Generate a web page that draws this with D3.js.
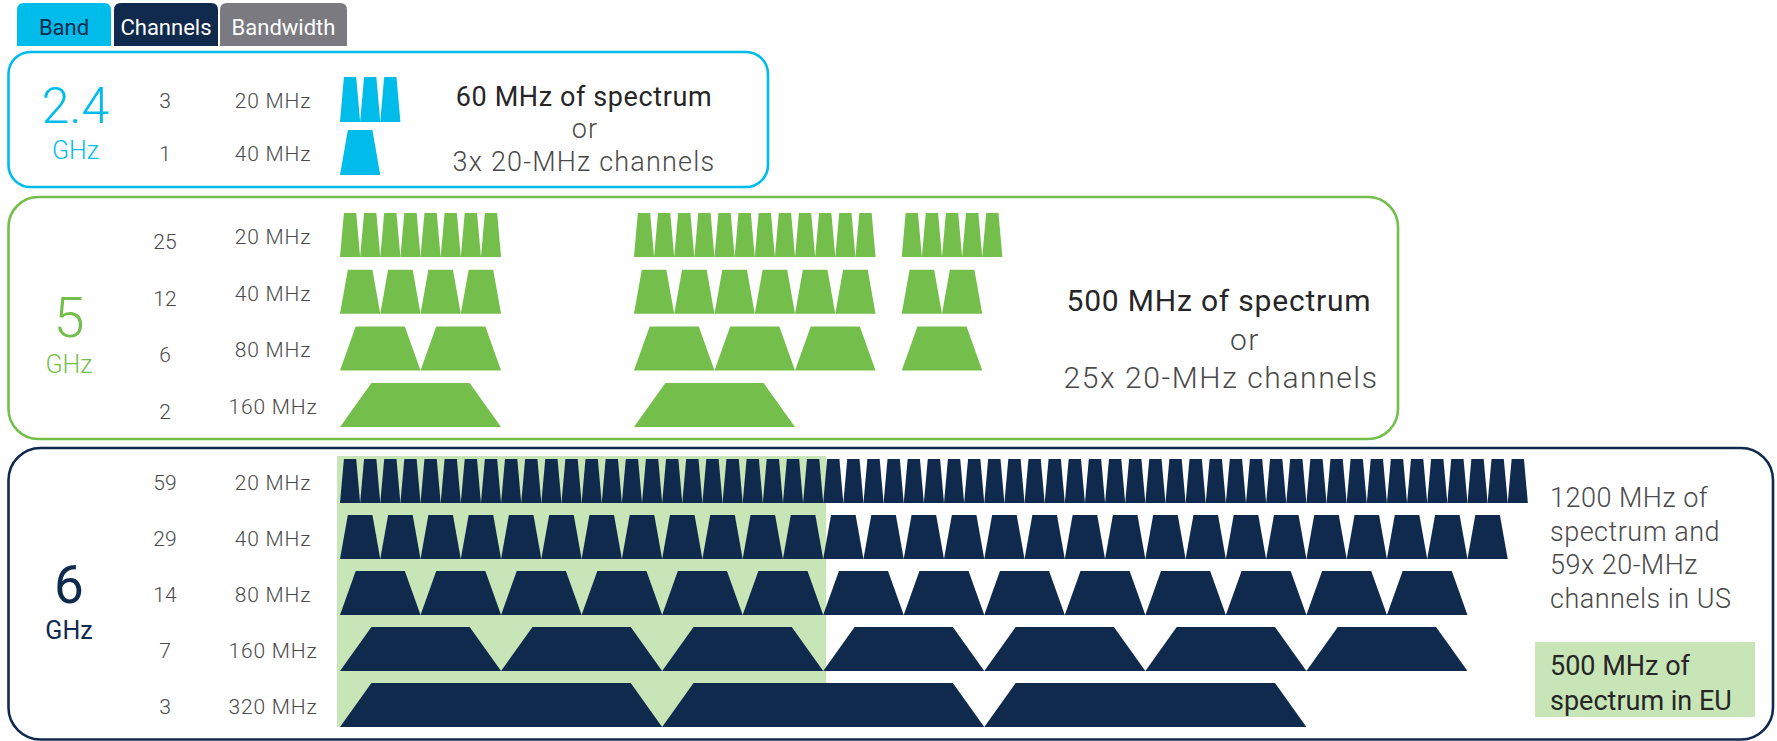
<!DOCTYPE html>
<html>
<head>
<meta charset="utf-8">
<script src="https://cdn.jsdelivr.net/npm/d3@7"></script>
<style>
  html, body { margin: 0; padding: 0; background: #fff; }
  svg { display: block; font-family: Roboto, "Open Sans", sans-serif; }
</style>
</head>
<body>
<svg id="chart" width="1777" height="741"></svg>
<script>
// ---- data ----
const tabLabels = ["Band", "Channels", "Bandwidth"];

const band24Widths = [20, 40];
const band24Counts = [3, 1];

const band5Widths = [20, 40, 80, 160];
const band5Counts = [25, 12, 6, 2];
// where each sub-band starts on the drawing, MHz from the first channel edge
const band5SubbandStarts = [0, 292, 558];
// channels of each width that fit in each sub-band
const band5SubbandChannels = [
  [8, 12, 5],
  [4, 6, 2],
  [2, 3, 1],
  [1, 1, 0],
];

const band6Widths = [20, 40, 80, 160, 320];
const band6Counts = [59, 29, 14, 7, 3];
const band6EuSpectrum = 480; // MHz shaded for EU

const note24 = ["60 MHz of spectrum", "or", "3x 20-MHz channels"];
const note5 = ["500 MHz of spectrum", "or", "25x 20-MHz channels"];
const note6 = ["1200 MHz of", "spectrum and", "59x 20-MHz", "channels in US"];
const noteEU = ["500 MHz of", "spectrum in EU"];

// ---- style ----
const colors = {
  blue: "#00bceb",
  green: "#74bf4b",
  navy: "#0f2a4c",
  gray: "#7a7a80",
  eu: "#c7e5b6",
  label: "#4a4a4a",
  dark: "#262626",
};

const svg = d3.select("#chart");

// 1 MHz is about 1 px across every band
const x = d3.scaleLinear().domain([0, 1200]).range([340, 1548]);

// row scale: top of first row, distance between rows, shape height
function rowScale(widths, top, pitch, height) {
  const p = 1 - height / pitch;
  const start = top - (pitch * p) / 2;
  return d3
    .scaleBand()
    .domain(widths)
    .range([start, start + widths.length * pitch])
    .paddingInner(p)
    .paddingOuter(p / 2);
}

const line = d3.line();

function trapezoid(d, y, h) {
  const x0 = x(d.start);
  const x1 = x(d.start + d.width);
  // top corners pulled in, flattening out past 160 MHz
  const inset = x(Math.min(d.width, 160) * 0.195) - x(0);
  return (
    line([
      [x0, y + h],
      [x0 + inset, y],
      [x1 - inset, y],
      [x1, y + h],
    ]) + "Z"
  );
}

function roundedBox(x0, y0, x1, y1, r, color) {
  svg
    .append("rect")
    .attr("x", x0)
    .attr("y", y0)
    .attr("width", x1 - x0)
    .attr("height", y1 - y0)
    .attr("rx", r)
    .attr("fill", "none")
    .attr("stroke", color)
    .attr("stroke-width", 2.6);
}

function bandLabel(cx, numY, num, numSize, color, weight) {
  svg
    .append("text")
    .attr("x", cx)
    .attr("y", numY)
    .attr("text-anchor", "middle")
    .attr("font-size", numSize)
    .attr("font-weight", weight)
    .attr("fill", color)
    .text(num);
  svg
    .append("text")
    .attr("x", cx)
    .attr("y", numY + 36)
    .attr("text-anchor", "middle")
    .attr("font-size", 25)
    .attr("font-weight", weight)
    .attr("fill", color)
    .text("GHz");
}

// draw the rows of one band: labels + trapezoids
function drawRows(widths, counts, channelsFor, y, color, countDy) {
  const g = svg.append("g");
  widths.forEach((w, i) => {
    const top = y(w);
    const h = y.bandwidth();

    g.append("text")
      .attr("x", 165)
      .attr("y", top + 31 + countDy)
      .attr("text-anchor", "middle")
      .attr("font-size", 21)
      .attr("font-weight", 300)
      .attr("fill", colors.label)
      .text(counts[i]);

    g.append("text")
      .attr("x", 273)
      .attr("y", top + 31)
      .attr("text-anchor", "middle")
      .attr("font-size", 21)
      .attr("font-weight", 300)
      .attr("letter-spacing", 0.8)
      .attr("fill", colors.label)
      .text(`${w} MHz`);

    g.selectAll(null)
      .data(channelsFor(w, i))
      .join("path")
      .attr("d", (d) => trapezoid(d, top, h))
      .attr("fill", color);
  });
}

const evenChannels = (counts) => (w, i) =>
  d3.range(counts[i]).map((k) => ({ start: k * w, width: w }));

// centred three-line note: headline, "or", alternative
function note(lines, xs, ys, size, spacing) {
  const g = svg.append("g").attr("text-anchor", "middle");
  lines.forEach((t, i) => {
    g.append("text")
      .attr("x", xs[i])
      .attr("y", ys[i])
      .attr("font-size", size)
      .attr("font-weight", i === 0 ? 400 : 300)
      .attr("letter-spacing", i === 0 ? spacing * 0.5 : spacing)
      .attr("fill", i === 0 ? colors.dark : colors.label)
      .text(t);
  });
}

// ---- tabs ----
const tabEdges = [
  [17, 111],
  [114, 218],
  [220, 347],
];
const tabFill = [colors.blue, colors.navy, colors.gray];
const tabText = [colors.navy, "#fff", "#fff"];
tabLabels.forEach((label, i) => {
  const [x0, x1] = tabEdges[i];
  const y0 = 3, y1 = 46, r = 7;
  svg
    .append("path")
    .attr(
      "d",
      `M${x0},${y1}V${y0 + r}Q${x0},${y0} ${x0 + r},${y0}H${x1 - r}Q${x1},${y0} ${x1},${y0 + r}V${y1}Z`
    )
    .attr("fill", tabFill[i]);
  svg
    .append("text")
    .attr("x", (x0 + x1) / 2)
    .attr("y", 35)
    .attr("text-anchor", "middle")
    .attr("font-size", 22)
    .attr("fill", tabText[i])
    .text(label);
});

// ---- 2.4 GHz ----
roundedBox(8.5, 52, 768, 187, 22, colors.blue);
bandLabel(75.5, 123, "2.4", 50, colors.blue, 300);
const y24 = rowScale(band24Widths, 77, 53, 45);
drawRows(band24Widths, band24Counts, evenChannels(band24Counts), y24, colors.blue, 0);
note(note24, [584, 585, 584], [106, 138, 171], 27, 1.2);

// ---- 5 GHz ----
roundedBox(8.5, 197, 1398, 439, 30, colors.green);
bandLabel(69, 337, "5", 56, colors.green, 300);
const y5 = rowScale(band5Widths, 213, 56.7, 44);
drawRows(
  band5Widths,
  band5Counts,
  (w, i) =>
    band5SubbandStarts.flatMap((s, j) =>
      d3.range(band5SubbandChannels[i][j]).map((k) => ({ start: s + k * w, width: w }))
    ),
  y5,
  colors.green,
  5
);
note(note5, [1219, 1245, 1221], [311, 350, 388], 30, 1.6);

// ---- 6 GHz ----
roundedBox(8.5, 448, 1773, 739.5, 32, colors.navy);
bandLabel(69, 603, "6", 53, colors.navy, 400);
const y6 = rowScale(band6Widths, 459, 56, 44);

// EU portion shaded behind the channels
svg
  .append("rect")
  .attr("x", x(0) - 3)
  .attr("y", y6(band6Widths[0]) - 3)
  .attr("width", x(band6EuSpectrum) - x(0) + 6)
  .attr("height", y6(band6Widths[band6Widths.length - 1]) + y6.bandwidth() - y6(band6Widths[0]) + 3)
  .attr("fill", colors.eu);

drawRows(band6Widths, band6Counts, evenChannels(band6Counts), y6, colors.navy, 0);

const n6 = svg.append("g");
note6.forEach((t, i) => {
  n6.append("text")
    .attr("x", 1550)
    .attr("y", 507 + i * 33.7)
    .attr("font-size", 27)
    .attr("font-weight", 300)
    .attr("letter-spacing", 0.5)
    .attr("fill", colors.label)
    .text(t);
});

svg.append("rect")
  .attr("x", 1535).attr("y", 642)
  .attr("width", 220).attr("height", 75)
  .attr("fill", colors.eu);
noteEU.forEach((t, i) => {
  svg.append("text")
    .attr("x", 1550)
    .attr("y", 675 + i * 35)
    .attr("font-size", 27)
    .attr("fill", colors.dark)
    .text(t);
});
</script>
</body>
</html>
